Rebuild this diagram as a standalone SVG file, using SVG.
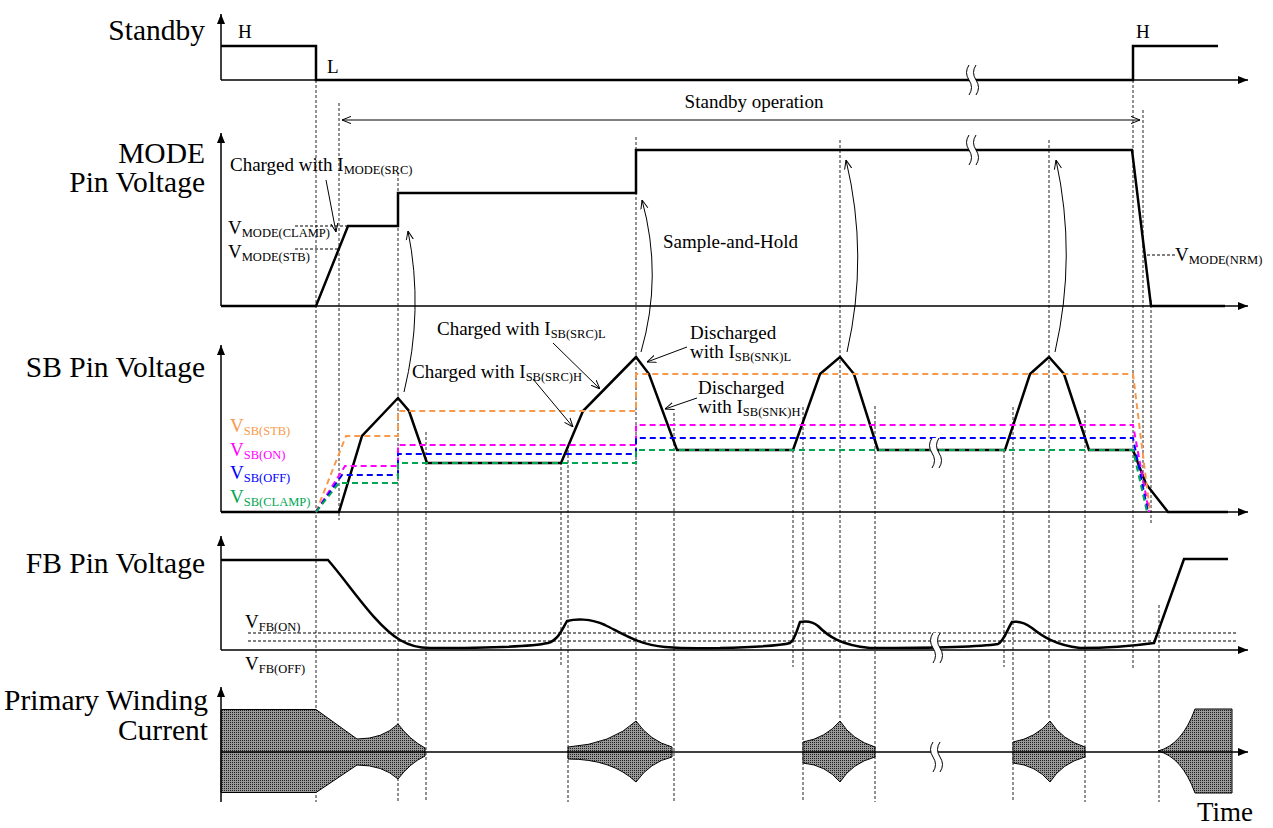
<svg xmlns="http://www.w3.org/2000/svg" width="1273" height="828" viewBox="0 0 1273 828">
<defs>
<marker id="ah" viewBox="0 0 10 8" refX="10" refY="4" markerWidth="10" markerHeight="8" orient="auto" markerUnits="userSpaceOnUse"><path d="M0,0 L10,4 L0,8 Z" fill="#000"/></marker>
<marker id="oa" viewBox="0 0 10 10" refX="10" refY="5" markerWidth="9" markerHeight="9" orient="auto-start-reverse" markerUnits="userSpaceOnUse"><path d="M0,1 L10,5 L0,9" fill="none" stroke="#000" stroke-width="1.1"/></marker>
<pattern id="dots" width="2" height="2" patternUnits="userSpaceOnUse"><rect width="2" height="2" fill="#999"/><rect width="1" height="1" fill="#1e1e1e"/></pattern>
<g id="brk"><path d="M-4,-15 Q-9,-7.5 -4,0 T-4,15 L3,15 Q8,7.5 3,0 Q-2,-7.5 3,-15 Z" fill="#fff" stroke="none"/><path d="M-4,-15 Q-9,-7.5 -4,0 T-4,15 M3,-15 Q-2,-7.5 3,0 T3,15" fill="none" stroke="#000" stroke-width="1"/></g>
</defs>
<style>
.t{font-family:"Liberation Serif","Times New Roman",serif;font-size:19px;fill:#000}
.s{font-size:12.5px}
.big{font-family:"Liberation Serif","Times New Roman",serif;font-size:29.5px;fill:#000;text-anchor:end}
.ax{stroke:#000;stroke-width:1.5;fill:none}
.sig{stroke:#000;stroke-width:2.5;fill:none;stroke-linejoin:miter}
.vd{stroke:#222;stroke-width:1;stroke-dasharray:3 2;fill:none}
.hd{stroke:#000;stroke-width:1;stroke-dasharray:3 2;fill:none}
.cd{stroke-width:2;stroke-dasharray:6 4;fill:none}
.ann{stroke:#000;stroke-width:1;fill:none}
.burst{fill:url(#dots);stroke:#000;stroke-width:1}
</style>
<rect width="1273" height="828" fill="#fff"/>

<g id="labels">
<text class="big" x="205" y="40">Standby</text>
<text class="big" x="205" y="163">MODE</text>
<text class="big" x="205" y="192">Pin Voltage</text>
<text class="big" x="205" y="377">SB Pin Voltage</text>
<text class="big" x="205" y="573">FB Pin Voltage</text>
<text class="big" x="208" y="710">Primary Winding</text>
<text class="big" x="208" y="740">Current</text>
<text class="big" x="1253" y="821" style="font-size:27px">Time</text>
</g>

<g id="vdashes">
<path class="vd" d="M316,80V802 M339,103V520 M398,173V802 M426,432V802 M561,462V667 M568,445V802 M636,137V720 M674,413V802 M793,450V667 M803,407V802 M840,140V720 M875,406V802 M1004,450V667 M1013,407V802 M1049,140V720 M1085,410V802 M1133,80V668 M1143,110V490 M1151,300V523 M1159,605V802"/>
</g>

<g id="standby">
<path class="ax" d="M221,80V14" marker-end="url(#ah)"/>
<path class="ax" d="M221,80H1248" marker-end="url(#ah)"/>
<path class="sig" d="M221,46H316V80H1133V46H1218"/>
<text class="t" x="238" y="38">H</text>
<text class="t" x="327" y="73">L</text>
<text class="t" x="1136" y="38">H</text>
<use href="#brk" x="973" y="80"/>
</g>

<g id="standby-op">
<path class="ann" d="M342,120H1140" marker-start="url(#oa)" marker-end="url(#oa)"/>
<text class="t" x="754" y="108" text-anchor="middle">Standby operation</text>
</g>

<g id="mode">
<path class="ax" d="M221,306V133" marker-end="url(#ah)"/>
<path class="ax" d="M221,306H1248" marker-end="url(#ah)"/>
<path class="sig" d="M221,306H316L348,226H398V193H636V150H1132L1151,306H1225"/>
<path class="hd" d="M295,226H347 M295,249H338 M1147,255H1175"/>
<text class="t" x="230" y="171">Charged with I<tspan class="s" dy="3">MODE(SRC)</tspan></text>
<path class="ann" d="M326,180L336,232" marker-end="url(#oa)"/>
<text class="t" x="228" y="234">V<tspan class="s" dy="3">MODE(CLAMP)</tspan></text>
<text class="t" x="228" y="258">V<tspan class="s" dy="3">MODE(STB)</tspan></text>
<text class="t" x="1175" y="261">V<tspan class="s" dy="3">MODE(NRM)</tspan></text>
<text class="t" x="663" y="248">Sample-and-Hold</text>
<use href="#brk" x="973" y="150"/>
</g>

<g id="sample-hold">
<path class="ann" d="M404,392Q424,310 408,231" marker-end="url(#oa)"/>
<path class="ann" d="M641,352Q663,276 642,200" marker-end="url(#oa)"/>
<path class="ann" d="M847,352Q869,256 846,160" marker-end="url(#oa)"/>
<path class="ann" d="M1055,352Q1077,256 1056,160" marker-end="url(#oa)"/>
</g>

<g id="sb">
<path class="ax" d="M221,512V345" marker-end="url(#ah)"/>
<path class="ax" d="M221,512H1248" marker-end="url(#ah)"/>
<path class="sig" d="M221,512H339L362,436L398,398L409,411L427,463H561L583,411L636,357L649,374L677,450H793L820,374L840,357L854,374L878,450H1005L1030,374L1049,357L1064,374L1089,450H1133L1146,484L1168,512H1228"/>
<path class="cd" stroke="#F79A4B" d="M316,512L346,436H398V411H636V374H1133L1150,512"/>
<path class="cd" stroke="#FF00FF" d="M316,512L345,466H398V445H636V425H1133L1149,512"/>
<path class="cd" stroke="#0000FF" d="M316,512L342,475H398V454H636V438H1133L1148,512"/>
<path class="cd" stroke="#00A651" d="M316,512L339,483H398V463H636V450H1133L1147,512"/>
<text class="t" x="230" y="432" style="fill:#F79A4B">V<tspan class="s" dy="3">SB(STB)</tspan></text>
<text class="t" x="230" y="456" style="fill:#FF00FF">V<tspan class="s" dy="3">SB(ON)</tspan></text>
<text class="t" x="230" y="479" style="fill:#0000FF">V<tspan class="s" dy="3">SB(OFF)</tspan></text>
<text class="t" x="230" y="503" style="fill:#00A651">V<tspan class="s" dy="3">SB(CLAMP)</tspan></text>
<text class="t" x="437" y="335">Charged with I<tspan class="s" dy="3">SB(SRC)L</tspan></text>
<path class="ann" d="M553,343L600,389" marker-end="url(#oa)"/>
<text class="t" x="412" y="378">Charged with I<tspan class="s" dy="3">SB(SRC)H</tspan></text>
<path class="ann" d="M533,379L573,427" marker-end="url(#oa)"/>
<text class="t" x="690" y="339">Discharged</text>
<text class="t" x="690" y="358">with I<tspan class="s" dy="3">SB(SNK)L</tspan></text>
<path class="ann" d="M687,347L647,362" marker-end="url(#oa)"/>
<text class="t" x="698" y="394">Discharged</text>
<text class="t" x="698" y="413">with I<tspan class="s" dy="3">SB(SNK)H</tspan></text>
<path class="ann" d="M697,398L665,409" marker-end="url(#oa)"/>
<use href="#brk" x="936" y="453"/>
</g>

<g id="fb">
<path class="ax" d="M221,650V536" marker-end="url(#ah)"/>
<path class="ax" d="M221,650H1248" marker-end="url(#ah)"/>
<path class="hd" d="M248,633H1238 M248,641H1238"/>
<path class="sig" stroke-width="2" d="M221,560L328,560C350,585 375,625 400,640C410,646 420,648 430,648C480,648 530,647 548,643C558,640 562,630 567,621C575,619 590,618 605,625C625,635 640,645 665,647C690,649 700,648 720,648C760,647 780,646 790,643C795,640 797,630 800,622C806,621 812,621 818,626C828,636 840,645 870,648C920,648 980,647 998,644C1004,641 1007,630 1012,622C1018,621 1024,622 1032,628C1042,636 1055,645 1080,648C1110,648 1140,645 1154,643L1184,559L1228,559"/>
<text class="t" x="245" y="628">V<tspan class="s" dy="3">FB(ON)</tspan></text>
<text class="t" x="245" y="670">V<tspan class="s" dy="3">FB(OFF)</tspan></text>
<use href="#brk" x="937" y="648"/>
</g>

<g id="primary">
<path class="burst" d="M221,709.5L316,709.5L357,739Q383,739 398,724Q410,740 425,748L425,756Q410,763 398,779Q383,765 357,765L316,792.5L221,792.5Z"/>
<path class="burst" d="M568,747Q612,744 636,721Q650,741 672,747L672,757Q650,762 636,782Q612,759 568,759Z"/>
<path class="burst" d="M803,742Q826,738 840,721Q852,740 875,747L875,757Q852,763 840,782Q826,765 803,763Z"/>
<path class="burst" d="M1013,742Q1036,738 1050,721Q1062,740 1085,747L1085,757Q1062,763 1050,782Q1036,765 1013,763Z"/>
<path class="burst" d="M1158,751Q1182,745 1195,709L1232,709L1232,793L1195,793Q1182,757 1158,751Z"/>
<path class="ax" d="M221,802V687" marker-end="url(#ah)"/>
<path class="ax" d="M221,752H1248" marker-end="url(#ah)"/>
<use href="#brk" x="937" y="757"/>
</g>
</svg>
